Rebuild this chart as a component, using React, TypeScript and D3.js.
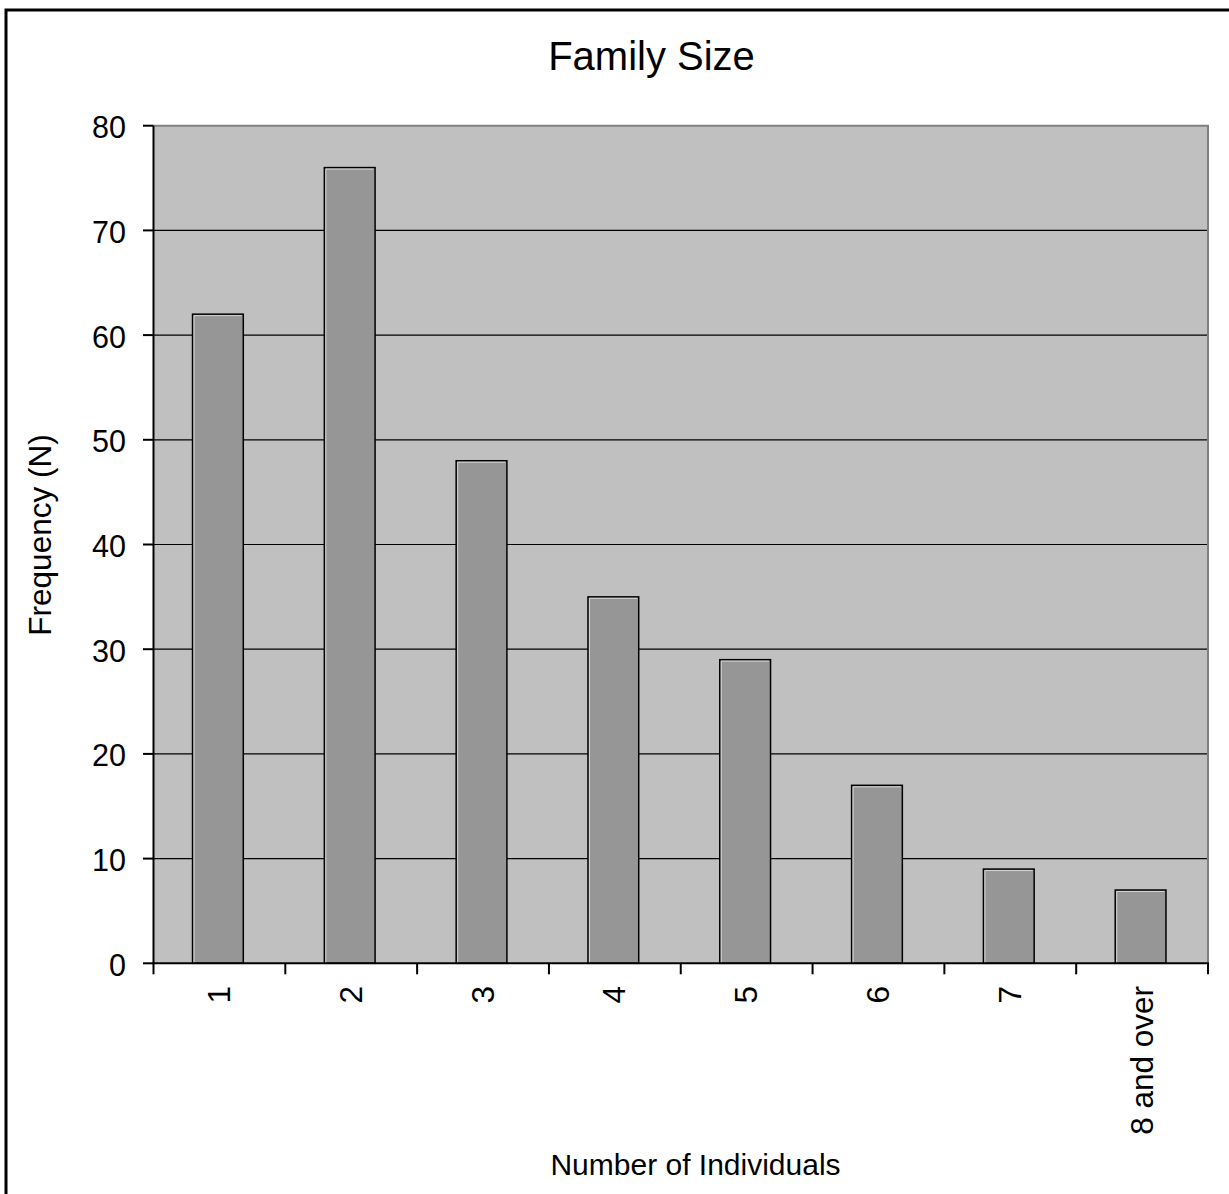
import React from "react";
import * as d3 from "d3";

const categories = ["1", "2", "3", "4", "5", "6", "7", "8 and over"];
const frequencies = [62, 76, 48, 35, 29, 17, 9, 7];
const yTicks = [0, 10, 20, 30, 40, 50, 60, 70, 80];
const chartTitle = "Family Size";
const xTitle = "Number of Individuals";
const yTitle = "Frequency (N)";

const W = 1229;
const H = 1194;
const FONT = "'Liberation Sans', Arial, sans-serif";

export default function App() {
  const left = 153.5;
  const right = 1208;
  const top = 125.7;
  const bottom = 963.3;

  const x = d3.scaleBand<string>().domain(categories).range([left, right]).paddingInner(0).paddingOuter(0);
  const y = d3.scaleLinear().domain([0, 80]).range([bottom, top]);
  const bw = x.bandwidth() * 0.385;
  const boundaries = [...categories.map((c) => x(c) as number), right];

  return (
    <svg
      width={W}
      height={H}
      style={{ position: "absolute", left: 0, top: 0, background: "#fff" }}
      fontFamily={FONT}
    >
      {/* outer frame (left + top visible) */}
      <rect x={6} y={10} width={W + 20} height={H + 20} fill="#fff" stroke="#000" strokeWidth={3} />

      {/* plot area */}
      <rect x={left} y={top} width={right - left} height={bottom - top} fill="#C0C0C0" />
      <path d={`M${left},${top} H${right} V${bottom}`} fill="none" stroke="#808080" strokeWidth={2} />

      {/* gridlines */}
      {yTicks
        .filter((t) => t > 0 && t < 80)
        .map((t) => (
          <line key={t} x1={left} x2={right - 1} y1={y(t)} y2={y(t)} stroke="#000" strokeWidth={1.2} />
        ))}

      {/* bars */}
      {categories.map((c, i) => {
        const cx = (x(c) as number) + x.bandwidth() / 2 - 1.5;
        const x0 = cx - bw / 2;
        const y0 = y(frequencies[i]);
        const h = bottom - y0;
        return (
          <g key={c}>
            <rect x={x0} y={y0} width={bw} height={h} fill="#969696" stroke="#000" strokeWidth={1.5} />
            <path
              d={`M${x0 + 1.5},${bottom} V${y0 + 1.5} H${x0 + bw - 1.5}`}
              fill="none"
              stroke="#D4D4D4"
              strokeWidth={1}
            />
          </g>
        );
      })}

      {/* y axis */}
      <line x1={left} x2={left} y1={top} y2={bottom + 1} stroke="#000" strokeWidth={2} />
      {yTicks.map((t) => (
        <g key={t}>
          <line x1={143} x2={left} y1={y(t)} y2={y(t)} stroke="#000" strokeWidth={2} />
          <text x={126} y={y(t) + 12.5} textAnchor="end" fontSize={30.5} fill="#000">
            {t}
          </text>
        </g>
      ))}

      {/* x axis */}
      <line x1={left - 1} x2={right + 1} y1={bottom} y2={bottom} stroke="#000" strokeWidth={2} />
      {boundaries.map((b, i) => (
        <line key={i} x1={b} x2={b} y1={bottom} y2={bottom + 11} stroke="#000" strokeWidth={2} />
      ))}
      {categories.map((c) => {
        const cx = (x(c) as number) + x.bandwidth() / 2;
        return (
          <text
            key={c}
            transform={`translate(${cx + 10.5}, 986) rotate(-90)`}
            textAnchor="end"
            fontSize={31.5}
            fill="#000"
          >
            {c}
          </text>
        );
      })}

      {/* titles */}
      <text x={651.5} y={70} textAnchor="middle" fontSize={40} fill="#000">
        {chartTitle}
      </text>
      <text x={695.5} y={1175} textAnchor="middle" fontSize={30} fill="#000">
        {xTitle}
      </text>
      <text transform={`translate(51, 535) rotate(-90)`} textAnchor="middle" fontSize={31.5} fill="#000">
        {yTitle}
      </text>
    </svg>
  );
}
